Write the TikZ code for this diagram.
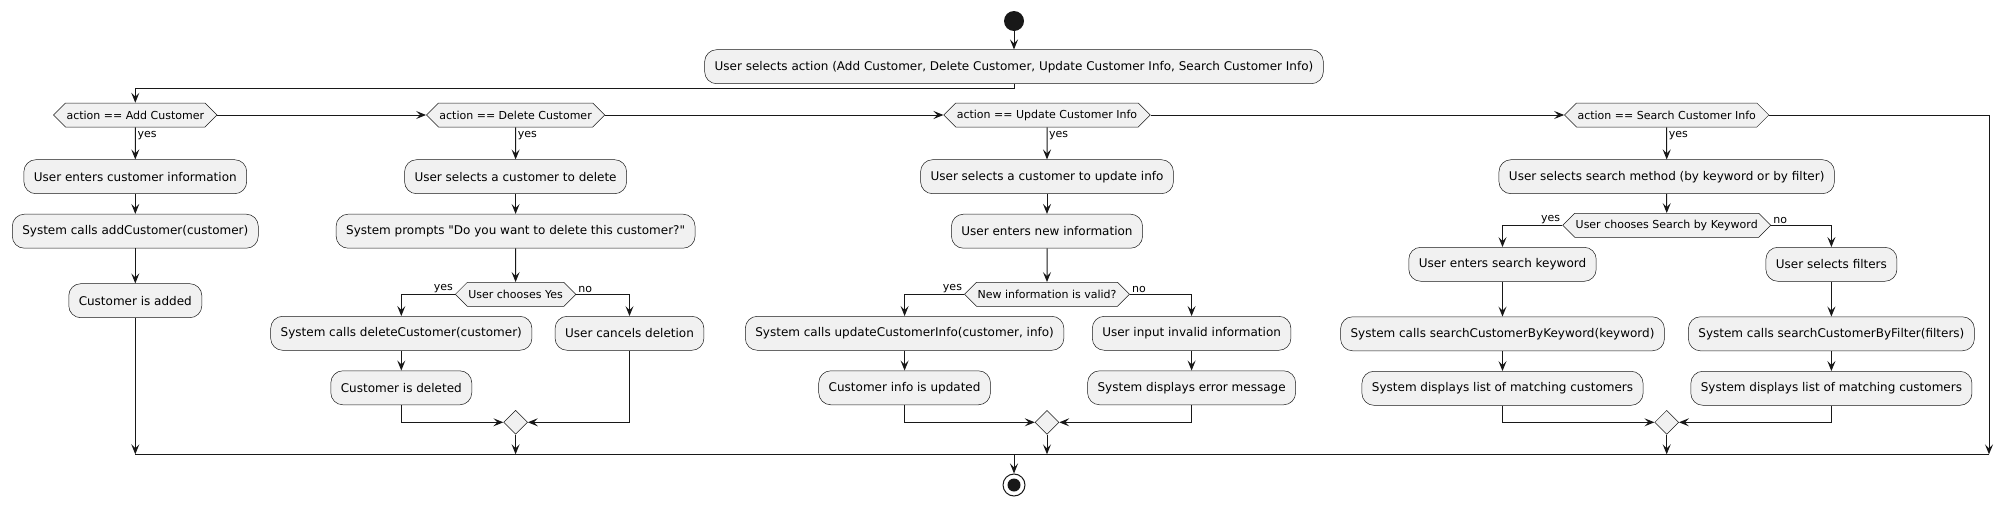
\documentclass[tikz,border=0pt]{standalone}
\usepackage{fontspec}
\setmainfont{DejaVu Sans}
\usetikzlibrary{shapes.geometric,shapes.symbols,arrows.meta,positioning,calc}
\definecolor{actfill}{HTML}{F1F1F1}
\definecolor{linecol}{HTML}{181818}
% plain font without TeX ligature mapping, for straight quotes
\font\plainquote="DejaVu Sans" at 12pt
\newcommand{\sq}{{\plainquote"}}

\begin{document}
\begin{tikzpicture}[
    x=1pt, y=-1pt,
    act/.style={draw=linecol, line width=0.5pt, rectangle, rounded corners=12pt, fill=actfill, minimum height=34pt, inner xsep=10pt, font=\fontsize{12}{14}\selectfont},
    cond/.style={draw=linecol, line width=0.5pt, shape=signal, signal to=east and west, signal pointer angle=90, fill=actfill, minimum height=24pt, inner xsep=1pt, inner ysep=0pt, font=\fontsize{11}{13}\selectfont},
    merge/.style={draw=linecol, line width=0.5pt, diamond, fill=actfill, minimum size=24pt, inner sep=0pt},
    lbl/.style={font=\fontsize{11}{13}\selectfont, inner sep=1pt},
    arrow/.style={-{Stealth[length=10pt,width=8pt,inset=4pt]}, line width=1pt, draw=linecol},
    flow/.style={line width=1pt, draw=linecol}
]
    \useasboundingbox (0,0) rectangle (2014,506);

    % Start and action choice
    \node[circle, fill=linecol, minimum size=20pt, inner sep=0pt] (start) at (1014,21) {};
    \node[act] (pick) at (1014,66.7) {User selects action (Add Customer, Delete Customer, Update Customer Info, Search Customer Info)};
    \coordinate (split) at (1014,88.3);

    % Decision chain
    \node[cond] (askAdd) at (135.3,115) {action == Add Customer};
    \node[cond] (askDel) at (515.6,115) {action == Delete Customer};
    \node[cond] (askUpd) at (1047,115) {action == Update Customer Info};
    \node[cond] (askSearch) at (1666.7,115) {action == Search Customer Info};

    % Add column
    \node[act] (addIn) at (135.3,176.7) {User enters customer information};
    \node[act, below=20pt of addIn] (addCall) {System calls addCustomer(customer)};
    \node[act, below=35pt of addCall] (addDone) {Customer is added};

    % Delete column
    \node[act] (delPick) at (515.6,176.7) {User selects a customer to delete};
    \node[act, below=20pt of delPick] (delPrompt) {System prompts \sq Do you want to delete this customer?\sq};
    \node[cond] (chkDel) at (515.6,294.3) {User chooses Yes};
    \node[act] (delCall) at (401.3,333.3) {System calls deleteCustomer(customer)};
    \node[act, below=20pt of delCall] (delDone) {Customer is deleted};
    \node[act] (delCancel) at (629.5,333.3) {User cancels deletion};
    \node[merge] (mDel) at (515.6,422.3) {};

    % Update column
    \node[act] (updPick) at (1047,176.7) {User selects a customer to update info};
    \node[act, below=20pt of updPick] (updEnter) {User enters new information};
    \node[cond] (chkUpd) at (1047,294.3) {New information is valid?};
    \node[act] (updCall) at (904.6,333.3) {System calls updateCustomerInfo(customer, info)};
    \node[act, below=20pt of updCall] (updDone) {Customer info is updated};
    \node[act] (updBad) at (1191.6,333.3) {User input invalid information};
    \node[act, below=20pt of updBad] (updErr) {System displays error message};
    \node[merge] (mUpd) at (1047,422.3) {};

    % Search column
    \node[act] (srMethod) at (1666.7,176.7) {User selects search method (by keyword or by filter)};
    \node[cond] (chkKey) at (1666.7,225.3) {User chooses Search by Keyword};
    \node[act] (kwEnter) at (1502.5,264.3) {User enters search keyword};
    \node[act, below=35pt of kwEnter] (kwCall) {System calls searchCustomerByKeyword(keyword)};
    \node[act, below=20pt of kwCall] (kwShow) {System displays list of matching customers};
    \node[act] (flSel) at (1831.4,264.3) {User selects filters};
    \node[act, below=35pt of flSel] (flCall) {System calls searchCustomerByFilter(filters)};
    \node[act, below=20pt of flCall] (flShow) {System displays list of matching customers};
    \node[merge] (mSearch) at (1666.7,422.3) {};

    % End
    \coordinate (joinL) at (135.3,454.3);
    \coordinate (joinR) at (1989,454.3);
    \node[circle, draw=linecol, line width=1pt, fill=white, minimum size=22pt, inner sep=0pt] (stop) at (1014,485) {};
    \fill[linecol] (stop.center) circle (6.5);

    % Labels
    \node[lbl, below right=3pt and 1pt of askAdd.south] {yes};
    \node[lbl, below right=3pt and 1pt of askDel.south] {yes};
    \node[lbl, below right=3pt and 1pt of askUpd.south] {yes};
    \node[lbl, below right=3pt and 1pt of askSearch.south] {yes};
    \node[lbl, above left=0pt and 1pt of chkDel.west] {yes};
    \node[lbl, above right=0pt and 1pt of chkDel.east] {no};
    \node[lbl, above left=0pt and 1pt of chkUpd.west] {yes};
    \node[lbl, above right=0pt and 1pt of chkUpd.east] {no};
    \node[lbl, above left=0pt and 1pt of chkKey.west] {yes};
    \node[lbl, above right=0pt and 1pt of chkKey.east] {no};

    % Connections
    \draw[arrow] (start) -- (pick);
    \draw[arrow] (pick.south) -- (split) -| (askAdd.north);
    \draw[arrow] (askAdd.east) -- (askDel.west);
    \draw[arrow] (askDel.east) -- (askUpd.west);
    \draw[arrow] (askUpd.east) -- (askSearch.west);
    \draw[arrow] (askSearch.east) -| (joinR);

    \draw[arrow] (askAdd) -- (addIn);
    \draw[arrow] (addIn) -- (addCall);
    \draw[arrow] (addCall) -- (addDone);
    \draw[arrow] (addDone.south) -- (joinL);

    \draw[arrow] (askDel) -- (delPick);
    \draw[arrow] (delPick) -- (delPrompt);
    \draw[arrow] (delPrompt) -- (chkDel);
    \draw[arrow] (chkDel.west) -| (delCall.north);
    \draw[arrow] (chkDel.east) -| (delCancel.north);
    \draw[arrow] (delCall) -- (delDone);
    \draw[arrow] (delDone.south) |- (mDel.west);
    \draw[arrow] (delCancel.south) |- (mDel.east);
    \draw[arrow] (mDel.south) -- (mDel |- joinL);

    \draw[arrow] (askUpd) -- (updPick);
    \draw[arrow] (updPick) -- (updEnter);
    \draw[arrow] (updEnter) -- (chkUpd);
    \draw[arrow] (chkUpd.west) -| (updCall.north);
    \draw[arrow] (chkUpd.east) -| (updBad.north);
    \draw[arrow] (updCall) -- (updDone);
    \draw[arrow] (updBad) -- (updErr);
    \draw[arrow] (updDone.south) |- (mUpd.west);
    \draw[arrow] (updErr.south) |- (mUpd.east);
    \draw[arrow] (mUpd.south) -- (mUpd |- joinL);

    \draw[arrow] (askSearch) -- (srMethod);
    \draw[arrow] (srMethod) -- (chkKey);
    \draw[arrow] (chkKey.west) -| (kwEnter.north);
    \draw[arrow] (chkKey.east) -| (flSel.north);
    \draw[arrow] (kwEnter) -- (kwCall);
    \draw[arrow] (kwCall) -- (kwShow);
    \draw[arrow] (flSel) -- (flCall);
    \draw[arrow] (flCall) -- (flShow);
    \draw[arrow] (kwShow.south) |- (mSearch.west);
    \draw[arrow] (flShow.south) |- (mSearch.east);
    \draw[arrow] (mSearch.south) -- (mSearch |- joinL);

    \draw[flow] (joinL) -- (joinR);
    \draw[arrow] (stop.north |- joinL) -- (stop.north);

\end{tikzpicture}
\end{document}
